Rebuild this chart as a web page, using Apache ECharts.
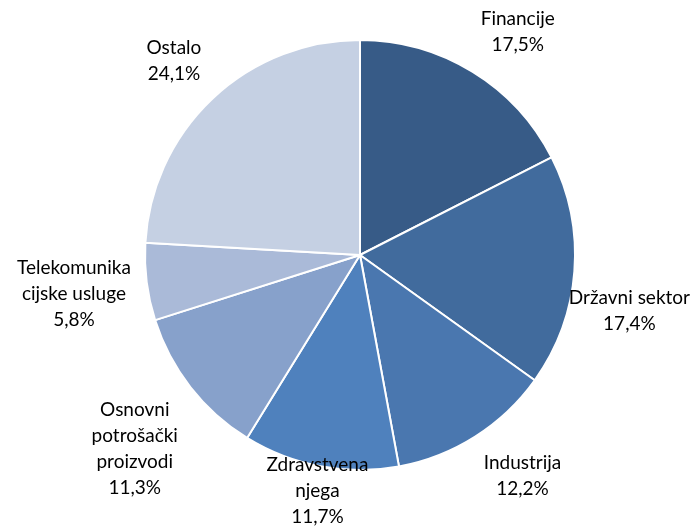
<!DOCTYPE html>
<html><head><meta charset="utf-8">
<script src="https://cdn.jsdelivr.net/npm/echarts@6/dist/echarts.min.js"></script>
<style>html,body{margin:0;padding:0;background:#fff}#c{width:690px;height:530px}</style>
</head><body><div id="c"></div>
<script>
const categories = ["Financije", "Državni sektor", "Industrija", "Zdravstvena\nnjega", "Osnovni\npotrošački\nproizvodi", "Telekomunika\ncijske usluge", "Ostalo"];
const values = [17.5, 17.4, 12.2, 11.7, 11.3, 5.8, 24.1];
const colors = ["#375B87", "#416B9D", "#4A77AF", "#4F81BD", "#87A1CB", "#AABAD8", "#C5D0E3"];

const W = 690, H = 530, CX = 360, CY = 255, R = 215, GAP = 16, OVERLAP = 4;
const total = values.reduce((a, b) => a + b, 0);
const mids = [];
let cum = 0;
values.forEach(v => { mids.push((90 - 360 * (cum + v / 2) / total) * Math.PI / 180); cum += v; });
const clamp = (v, a, b) => Math.max(a, Math.min(b, v));

const chart = echarts.init(document.getElementById('c'), null, {renderer: 'canvas'});
chart.setOption({
  animation: false,
  backgroundColor: '#fff',
  series: [{
    type: 'pie',
    center: [CX, CY],
    radius: R,
    startAngle: 90,
    clockwise: true,
    avoidLabelOverlap: false,
    data: categories.map((n, i) => ({name: n, value: values[i], itemStyle: {color: colors[i]}})),
    itemStyle: {borderColor: '#fff', borderWidth: 2},
    label: {
      show: true, position: 'outside',
      formatter: p => p.name + '\n' + p.value.toFixed(1).replace('.', ',') + '%',
      fontFamily: 'Lato', fontSize: 19, lineHeight: 26, color: '#000', align: 'center'
    },
    labelLine: {show: false},
    labelLayout: function (p) {
      const t = mids[p.dataIndex];
      const c = Math.cos(t), s = Math.sin(t);
      const w = p.labelRect.width, h = p.labelRect.height;
      const ax = CX + (R + GAP) * c, ay = CY - (R + GAP) * s;
      let cx = ax + clamp(2 * c, -1, 1) * w / 2;
      let cy = ay - clamp(2 * s, -1, 1) * h / 2;
      const cx2 = clamp(cx, w / 2, W - w / 2);
      if (cx2 !== cx) {
        cx = cx2;
        const x0 = cx - w / 2, x1 = cx + w / 2;
        const dx = x0 > CX ? x0 - CX : (x1 < CX ? CX - x1 : 0);
        const RR = R - OVERLAP;
        if (dx < RR) {
          const need = Math.sqrt(RR * RR - dx * dx);
          if (s < 0) cy = Math.max(cy, CY + need + h / 2);
          else cy = Math.min(cy, CY - need - h / 2);
        }
      }
      const cy2 = clamp(cy, h / 2, H - h / 2);
      if (cy2 !== cy) { cy = cy2; cx = ax; }
      return {x: cx, y: cy, align: 'center', verticalAlign: 'middle'};
    }
  }]
});
</script></body></html>
